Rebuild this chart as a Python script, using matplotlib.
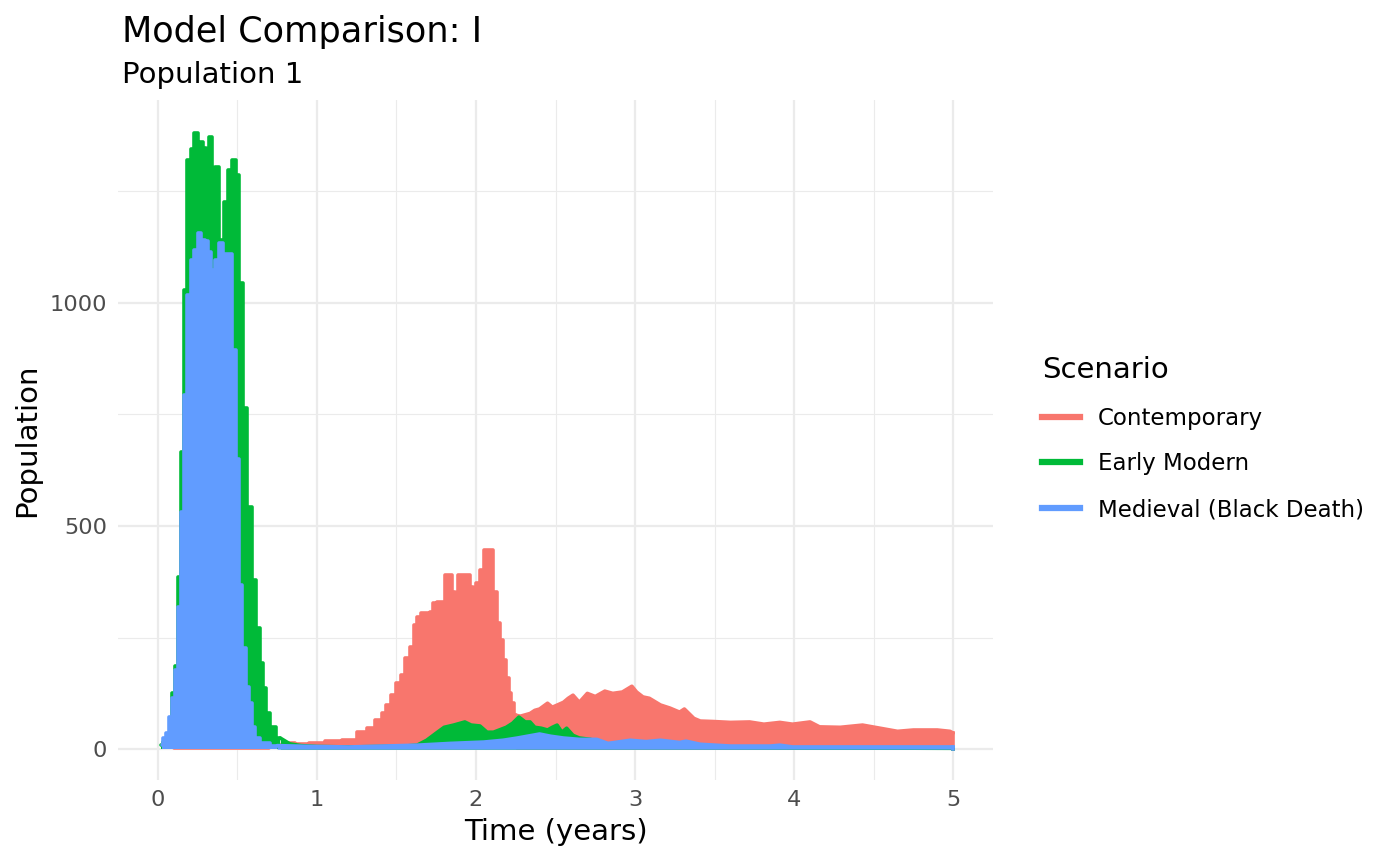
import matplotlib
matplotlib.use("Agg")
import matplotlib.pyplot as plt
import numpy as np
from matplotlib.lines import Line2D

# ---------------------------------------------------------------------------
# Data (upper envelope of each daily series)
# ---------------------------------------------------------------------------

scenarios = ["Contemporary", "Early Modern", "Medieval (Black Death)"]
colors    = ["#F8766D", "#00BA38", "#619CFF"]

contemporary_t = [0.1, 0.6, 0.8, 0.83, 0.9, 1.0, 1.1, 1.21, 1.30, 1.33, 1.40, 1.415, 1.45, 1.48,
                  1.52, 1.54, 1.57, 1.60, 1.62, 1.64, 1.67, 1.70, 1.72, 1.74, 1.77, 1.79, 1.82,
                  1.84, 1.86, 1.88, 1.90, 1.95, 1.97, 1.99, 2.01, 2.04, 2.06, 2.10, 2.12, 2.14,
                  2.16, 2.18, 2.20, 2.21, 2.23, 2.25, 2.28, 2.30, 2.34, 2.37, 2.40, 2.45, 2.48,
                  2.55, 2.58, 2.61, 2.65, 2.70, 2.75, 2.81, 2.86, 2.92, 2.98, 3.01, 3.05, 3.09,
                  3.16, 3.22, 3.28, 3.31, 3.37, 3.41, 3.49, 3.60, 3.72, 3.81, 3.91, 3.99, 4.10,
                  4.16, 4.29, 4.43, 4.54, 4.65, 4.75, 4.90, 4.98, 5.0]
contemporary_v = [2, 3, 10, 13, 12, 14, 18, 20, 38, 47, 65, 80, 99, 121,
                  148, 166, 204, 229, 278, 296, 305, 305, 307, 327, 330, 330, 390,
                  390, 352, 350, 390, 390, 363, 323, 372, 401, 446, 446, 352, 282,
                  244, 200, 159, 125, 103, 76, 74, 76, 80, 87, 90, 103, 94,
                  105, 114, 121, 105, 125, 118, 130, 125, 128, 141, 128, 117, 114,
                  99, 92, 83, 90, 69, 63, 62, 60, 61, 56, 60, 56, 61,
                  50, 49, 54, 47, 40, 43, 43, 40, 36]

early_modern_t = [0.02, 0.05, 0.075, 0.10, 0.12, 0.138, 0.157, 0.176, 0.195, 0.22, 0.24, 0.26,
                  0.277, 0.296, 0.315, 0.333, 0.35, 0.37, 0.40, 0.43, 0.45, 0.48, 0.50, 0.526,
                  0.547, 0.58, 0.60, 0.63, 0.65, 0.67, 0.69, 0.72, 0.77, 0.83, 0.9, 1.0, 1.2,
                  1.4, 1.55, 1.63, 1.69, 1.75, 1.80, 1.86, 1.93, 1.97, 2.025, 2.07, 2.11, 2.19,
                  2.23, 2.27, 2.31, 2.34, 2.37, 2.41, 2.45, 2.48, 2.51, 2.54, 2.57, 2.61, 2.65,
                  2.72, 2.80, 2.9, 3.2, 4.0, 5.0]
early_modern_v = [10, 15, 27, 125, 186, 386, 666, 1029, 1320, 1345, 1381, 1330,
                  1359, 1347, 1300, 1372, 1300, 1305, 1141, 1226, 1298, 1320, 1287, 1045,
                  765, 543, 379, 271, 193, 137, 80, 49, 25, 12, 8, 6, 5,
                  6, 7, 9, 20, 36, 49, 54, 61, 54, 52, 38, 38, 49,
                  58, 72, 61, 61, 49, 47, 43, 49, 54, 38, 47, 31, 25,
                  22, 13, 8, 5, 3, 2]

medieval_t = [0.025, 0.044, 0.063, 0.082, 0.094, 0.12, 0.138, 0.157, 0.176, 0.195, 0.22, 0.24,
              0.264, 0.283, 0.308, 0.327, 0.346, 0.37, 0.40, 0.42, 0.45, 0.48, 0.50, 0.52,
              0.54, 0.565, 0.58, 0.60, 0.62, 0.66, 0.75, 1.0, 1.2, 1.63, 1.84, 2.05, 2.17,
              2.26, 2.40, 2.47, 2.55, 2.65, 2.76, 2.83, 2.97, 3.07, 3.16, 3.28, 3.32, 3.41,
              3.60, 3.85, 3.91, 3.99, 5.0]
medieval_v = [9, 25, 36, 72, 114, 177, 318, 531, 794, 1018, 1096, 1119,
              1157, 1141, 1138, 1114, 1074, 1096, 1134, 1108, 1108, 895, 650, 368,
              226, 139, 103, 49, 25, 13, 8, 6, 5, 9, 13, 16, 20,
              25, 34, 29, 25, 22, 22, 13, 20, 17, 20, 15, 18, 11,
              7, 7, 9, 5, 5]

x_ticks = [0, 1, 2, 3, 4, 5]
y_ticks = [0, 500, 1000]

# where each series switches from blocky (weekly-looking) drawing to a plain line
step_until = [2.26, 0.8, 0.8]


# ---------------------------------------------------------------------------
# Plot
# ---------------------------------------------------------------------------

plt.rcParams["font.family"] = ["DejaVu Sans"]

fig = plt.figure(figsize=(14, 8.65), dpi=100)
ax  = fig.add_axes([118 / 1400, 1 - 780 / 865, (993 - 118) / 1400, (780 - 100) / 865])

series = [
    (contemporary_t, contemporary_v),
    (early_modern_t, early_modern_v),
    (medieval_t, medieval_v),
]
line_kw = dict(lw=2.6, solid_joinstyle="round", solid_capstyle="round", zorder=2)
for (t, v), col, cut in zip(series, colors, step_until):
    t, v = np.asarray(t, float), np.asarray(v, float)
    a = t <= cut
    b = t >= t[a][-1]
    ax.fill_between(t[a], 0, v[a], step="mid", color=col, lw=0, zorder=2)
    ax.plot(t[a], v[a], drawstyle="steps-mid", color=col, **line_kw)
    ax.fill_between(t[b], 0, v[b], color=col, lw=0, zorder=2)
    ax.plot(t[b], v[b], color=col, **line_kw)
    ax.plot([t[-1], t[-1]], [0, v[-1]], color=col, lw=2.6, zorder=2)

ax.set_xlim(-0.25, 5.25)
ax.set_ylim(-69, 1454)

ax.set_xticks(x_ticks)
ax.set_yticks(y_ticks)
ax.set_xticks([0.5, 1.5, 2.5, 3.5, 4.5], minor=True)
ax.set_yticks([250, 750, 1250], minor=True)
ax.grid(True, which="major", color="#EBEBEB", lw=1.6, zorder=0)
ax.grid(True, which="minor", color="#EBEBEB", lw=0.8, zorder=0)
ax.set_axisbelow(True)
for s in ax.spines.values():
    s.set_visible(False)
ax.tick_params(which="both", length=0, labelsize=16.2, labelcolor="#4D4D4D")
ax.tick_params(axis="y", pad=8)
ax.tick_params(axis="x", pad=7)

ax.set_xlabel("Time (years)", fontsize=21, labelpad=6)
ax.set_ylabel("Population", fontsize=21, labelpad=6)

fig.text(122 / 1400, 1 - 42 / 865, "Model Comparison: I", fontsize=25.3, va="baseline")
fig.text(122 / 1400, 1 - 83 / 865, "Population 1", fontsize=21, va="baseline")

handles = [Line2D([], [], color=c, lw=4.5) for c in colors]
leg = fig.legend(handles, scenarios, loc="upper left",
                 bbox_to_anchor=(1021 / 1400, 1 - 335 / 865),
                 frameon=False, fontsize=16.5, title="Scenario", title_fontsize=21,
                 handlelength=1.66, handletextpad=0.8, labelspacing=1.0)
leg._legend_box.align = "left"

fig.savefig("out.png", dpi=100)
